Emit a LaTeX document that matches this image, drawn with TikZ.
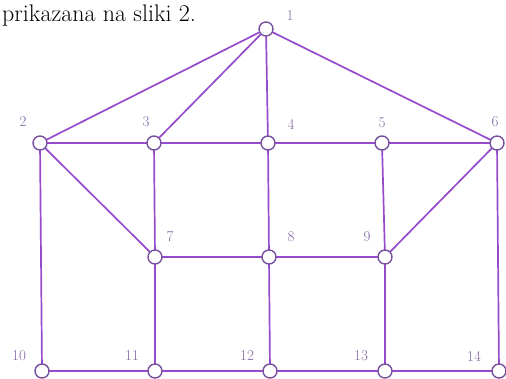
\documentclass[tikz,border=0pt]{standalone}
\begin{document}
\begin{tikzpicture}[x=1pt,y=-1pt,
  vtx/.style={circle,draw=vline,fill=white,line width=1.4pt,minimum size=14pt,inner sep=0pt},
  lab/.style={text=vlab,font=\fontsize{15}{18}\selectfont,inner sep=0pt},
  edge/.style={draw=eline,line width=1.7pt}]
\definecolor{eline}{RGB}{150,75,205}
\definecolor{vline}{RGB}{120,80,160}
\definecolor{vlab}{RGB}{130,105,165}
\useasboundingbox (0,0) rectangle (506,378);
\clip (0,0) rectangle (506,378);
\node[anchor=base west,inner sep=0pt,font=\fontsize{24}{28}\selectfont] (cap) at (2,21) {prikazana na sliki 2.};
\foreach \n/\x/\y in {1/266/29,2/40/143,3/154/143,4/268/143,5/382/143,6/497/143,
  7/155/257,8/269/257,9/385/257,10/42/371,11/155/371,12/270/371,13/385/371,14/499/371}
  \coordinate (p\n) at (\x,\y);
\foreach \a/\b in {1/2,1/3,1/4,1/6,2/3,3/4,4/5,5/6,2/7,2/10,3/7,4/8,5/9,6/9,6/14,7/8,8/9,7/11,8/12,9/13,10/11,11/12,12/13,13/14}
  \draw[edge] (p\a) -- (p\b);
\foreach \n in {1,...,14}
  \node[vtx] (v\n) at (p\n) {};
\foreach \n/\x/\y in {1/290/16,2/23/122,3/146/122,4/291/124,5/382/123,6/495/122,
  7/170/237,8/291/237,9/367/237,10/19/356,11/132/356,12/247/356,13/361/356,14/474/356}
  \node[lab] (l\n) at (\x,\y) {\n};
\end{tikzpicture}
\end{document}
